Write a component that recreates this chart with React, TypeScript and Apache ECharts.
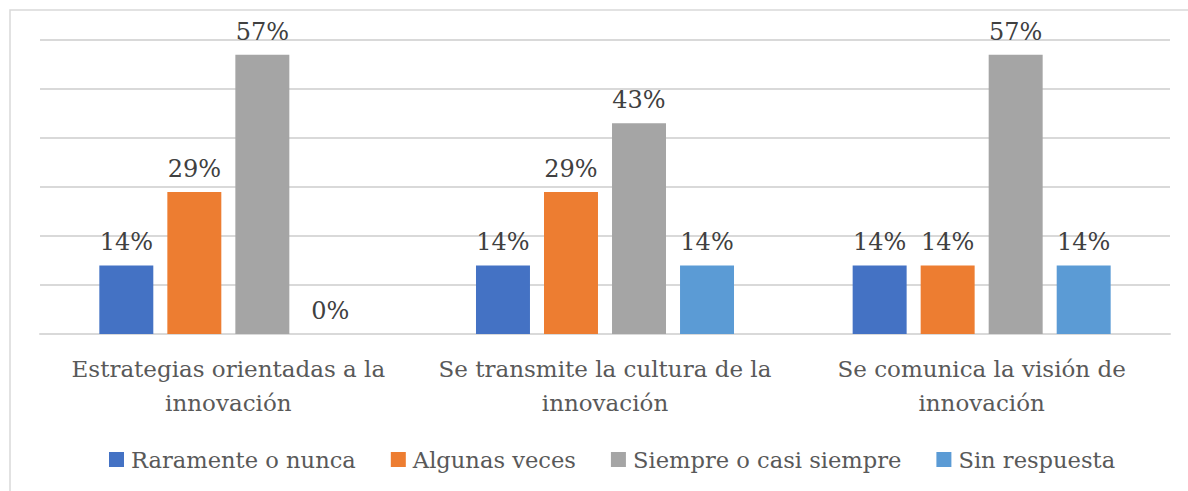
import React, { useEffect, useRef } from "react";
import * as echarts from "echarts";

const categories = [
  "Estrategias orientadas a la\ninnovación",
  "Se transmite la cultura de la\ninnovación",
  "Se comunica la visión de\ninnovación",
];
const seriesNames = ["Raramente o nunca", "Algunas veces", "Siempre o casi siempre", "Sin respuesta"];
const raramente = [14, 14, 14];
const algunas = [29, 29, 14];
const siempre = [57, 43, 57];
const sinRespuesta = [0, 14, 14];
const colors = ["#4472C4", "#ED7D31", "#A5A5A5", "#5B9BD5"];

const FONT = "DejaVu Serif";

export default function App() {
  const ref = useRef<HTMLDivElement>(null);
  useEffect(() => {
    if (!ref.current) return;
    const chart = echarts.init(ref.current, null, { renderer: "svg" });
    const values = [raramente, algunas, siempre, sinRespuesta];
    chart.setOption({
      animation: false,
      backgroundColor: "#ffffff",
      color: colors,
      textStyle: { fontFamily: FONT },
      graphic: [
        {
          type: "rect",
          shape: { x: 10, y: 10, width: 1300, height: 600 },
          style: { fill: "none", stroke: "#D9D9D9", lineWidth: 1.5 },
          silent: true,
        },
      ],
      grid: { left: 40, right: 18, top: 40, bottom: 157, containLabel: false },
      legend: {
        left: 104,
        top: 443,
        itemWidth: 15,
        itemHeight: 15,
        itemGap: 35,
        icon: "rect",
        textStyle: { fontFamily: FONT, fontSize: 22.6, color: "#595959", padding: [0, 0, 0, 2] },
        data: seriesNames,
      },
      xAxis: {
        type: "category",
        data: categories,
        axisTick: { show: false },
        axisLine: { lineStyle: { color: "#D9D9D9", width: 2 } },
        axisLabel: {
          fontFamily: FONT,
          fontSize: 23,
          color: "#595959",
          lineHeight: 34,
          margin: 18,
          interval: 0,
        },
      },
      yAxis: {
        type: "value",
        min: 0,
        max: 60,
        interval: 10,
        axisLabel: { show: false },
        axisLine: { show: false },
        axisTick: { show: false },
        splitLine: { lineStyle: { color: "#D9D9D9", width: 2 } },
      },
      series: seriesNames.map((name, i) => ({
        name,
        type: "bar",
        data: values[i],
        barGap: "26%",
        barCategoryGap: "31.5%",
        label: {
          show: true,
          position: "top",
          distance: 11,
          formatter: "{c}%",
          fontFamily: FONT,
          fontSize: 24,
          color: "#404040",
        },
      })),
    });
    return () => chart.dispose();
  }, []);
  return (
    <div
      ref={ref}
      style={{ position: "fixed", left: 0, top: 0, width: 1188, height: 491 }}
    />
  );
}
